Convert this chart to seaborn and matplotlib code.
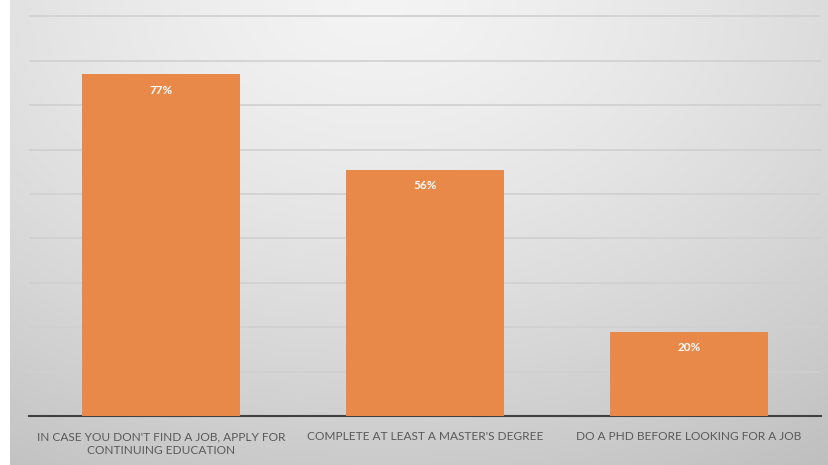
import numpy as np
import pandas as pd
import matplotlib
matplotlib.use("Agg")
import matplotlib.pyplot as plt
import seaborn as sns

categories = ["IN CASE YOU DON'T FIND A JOB, APPLY FOR\nCONTINUING EDUCATION",
              "COMPLETE AT LEAST A MASTER'S DEGREE",
              "DO A PHD BEFORE LOOKING FOR A JOB"]
values = [0.77, 0.555, 0.19]
labels = ["77%", "56%", "20%"]

sns.set_theme(style="white")
plt.rcParams['font.family'] = ['Lato', 'DejaVu Sans']

W, H = 829, 465
fig = plt.figure(figsize=(W/100, H/100), dpi=100)
fig.patch.set_facecolor("white")

# background gradient panel
bg = fig.add_axes([10/W, 0, 1 - 10/W, 1], zorder=0)
yy, xx = np.mgrid[0:1:200j, 0:1:400j]
d = np.sqrt(((xx - 0.45) / 0.85) ** 2 + ((yy - 0.0) / 1.05) ** 2)
val = 0.955 - 0.17 * np.clip(d, 0, 1.2) ** 1.4
img = np.dstack([val, val, val])
bg.imshow(img, aspect="auto", extent=[0, 1, 1, 0], interpolation="bilinear")
bg.axis("off")

ax = fig.add_axes([29/W, (H - 416)/H, (821 - 29)/W, (416 - 0)/H], zorder=1)
ax.patch.set_alpha(0)
df = pd.DataFrame({"cat": categories, "val": values})
sns.barplot(data=df, x="cat", y="val", color="#E8894A", width=0.6, ax=ax,
            saturation=1, linewidth=0, zorder=3)
ax.set_ylim(0, 416/444)
ax.set_xlim(-0.5, 2.5)
ax.set_yticks(np.arange(0.1, 0.91, 0.1))
ax.yaxis.grid(True, color="#d0d0d0", linewidth=1.2, zorder=0)
ax.set_yticklabels([])
ax.tick_params(axis="y", length=0)
ax.tick_params(axis="x", length=0, pad=11)
for s in ["top", "right", "left"]:
    ax.spines[s].set_visible(False)
ax.spines["bottom"].set_color("#404040")
ax.spines["bottom"].set_linewidth(1.5)
ax.set_xlabel("")
ax.set_ylabel("")
for lab in ax.get_xticklabels():
    lab.set_fontsize(8.6)
    lab.set_color("#595959")
    lab.set_linespacing(1.35)
    lab.set_verticalalignment("top")
    lab.set_multialignment("center")
for i, (v, t) in enumerate(zip(values, labels)):
    ax.annotate(t, (i, v), xytext=(0, -11.5), textcoords="offset points",
                ha="center", va="center", color="white", fontsize=8.5,
                fontweight="bold")

fig.savefig("out.png", dpi=100)
